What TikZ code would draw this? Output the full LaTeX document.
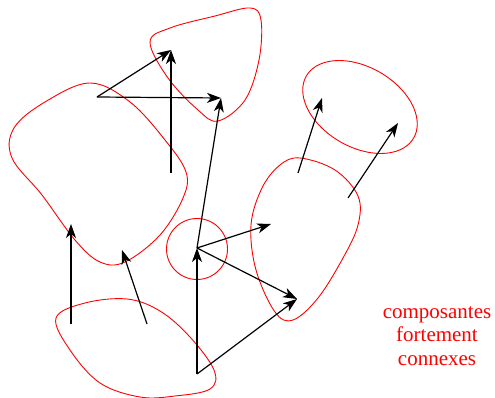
\documentclass[tikz,border=0pt]{standalone}
\usepackage{fontspec}
\setmainfont{Liberation Serif}
\usetikzlibrary{arrows.meta}
\tikzset{
  arr/.style={line width=1.2pt,-{Stealth[length=14pt,width=10pt,inset=4pt]}},
  comp/.style={red,line width=0.9pt},
  lab/.style={red,align=center,font=\fontsize{21}{23.5}\selectfont}
}
\begin{document}
\begin{tikzpicture}[x=1pt,y=-1pt]
\useasboundingbox (0,0) rectangle (495,398);
% components
\draw[comp] plot[smooth cycle,tension=0.6] coordinates {(150,42) (170,28) (215,16) (250,8) (261,20) (259,60) (245,100) (218,121) (198,110) (168,78)};
\draw[comp] plot[smooth cycle,tension=0.6] coordinates {(90,83) (130,102) (165,140) (186,172) (183,198) (160,235) (125,262) (100,262) (75,240) (42,195) (12,158) (14,128) (45,102)};
\draw[comp] (197,249) circle [radius=30.5pt];
\draw[comp] plot[smooth cycle,tension=0.6] coordinates {(56,318) (85,303) (127,299) (160,311) (190,337) (214,370) (210,389) (175,396) (140,397) (100,383) (70,350)};
\draw[comp] plot[smooth cycle,tension=0.6] coordinates {(300,158) (335,170) (358,196) (358,225) (343,258) (318,298) (293,320) (275,312) (256,270) (251,225) (262,188) (280,165)};
\draw[comp] plot[smooth cycle,domain=0:350,samples=36] ({360+62*cos(\x)*cos(30)-40*sin(\x)*sin(30)},{107+62*cos(\x)*sin(30)+40*sin(\x)*cos(30)});
% points
\coordinate (p1) at (97,97);
\coordinate (t1) at (171,50);
\coordinate (t2) at (221,98);
\coordinate (b1) at (171,173);
\coordinate (c) at (197,248);
\coordinate (t5) at (271,224);
\coordinate (t6) at (297,299);
\coordinate (s) at (197,374);
\coordinate (s9) at (71,324);
\coordinate (t9) at (71,224);
\coordinate (s10) at (147,324);
\coordinate (t10) at (122,250);
\coordinate (s11) at (298,173);
\coordinate (t11) at (322,98);
\coordinate (s12) at (348,198);
\coordinate (t12) at (398,123);
% arrows
\draw[arr] (p1) -- (t1);
\draw[arr] (p1) -- (t2);
\draw[arr] (b1) -- (t1);
\draw[arr] (c) -- (t2);
\draw[arr] (c) -- (t5);
\draw[arr] (c) -- (t6);
\draw[arr] (s) -- (t6);
\draw[arr] (s) -- (c);
\draw[arr] (s9) -- (t9);
\draw[arr] (s10) -- (t10);
\draw[arr] (s11) -- (t11);
\draw[arr] (s12) -- (t12);
\node[lab] (txt) at (437,336) {composantes\\fortement\\connexes};
\end{tikzpicture}
\end{document}
